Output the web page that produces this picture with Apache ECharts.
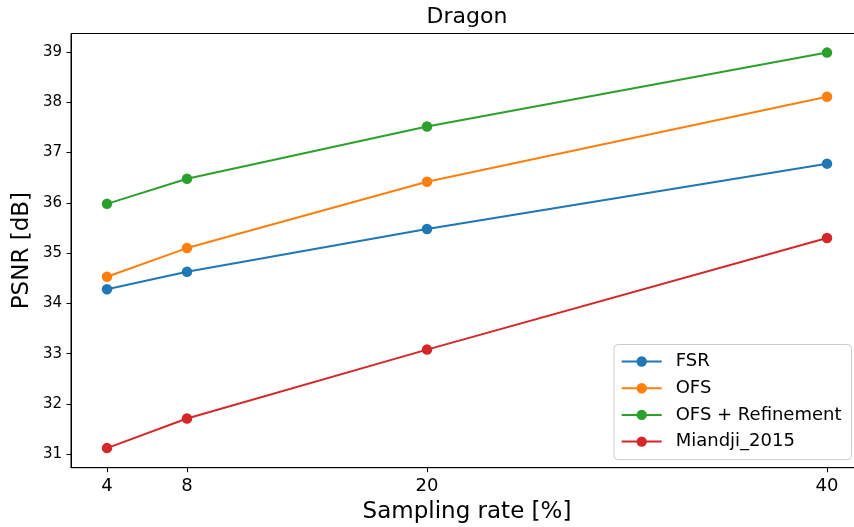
<!DOCTYPE html>
<html><head><meta charset="utf-8">
<script src="https://cdn.jsdelivr.net/npm/echarts@6/dist/echarts.min.js"></script>
<style>html,body{margin:0;padding:0;background:#fff}#c{width:854px;height:527px}</style>
</head><body><div id="c"></div>
<script>
const samplingRates = [4, 8, 20, 40];
const xTickValues = [4, 8, 20, 40];
const yTickValues = [31, 32, 33, 34, 35, 36, 37, 38, 39];
const fsr = [34.28, 34.63, 35.48, 36.78];
const ofs = [34.53, 35.10, 36.42, 38.11];
const ofsRefinement = [35.98, 36.48, 37.52, 38.99];
const miandji2015 = [31.12, 31.71, 33.08, 35.30];
const seriesNames = ['FSR', 'OFS', 'OFS + Refinement', 'Miandji_2015'];
const seriesValues = [fsr, ofs, ofsRefinement, miandji2015];
const colors = ['#1f77b4', '#ff7f0e', '#2ca02c', '#d62728'];

const FONT = '"DejaVu Sans", sans-serif';
const chart = echarts.init(document.getElementById('c'), null, {renderer: 'canvas'});
chart.setOption({
  animation: false,
  backgroundColor: '#fff',
  title: {
    text: 'Dragon', left: 467, top: 6.5, textAlign: 'center', padding: 0,
    textStyle: {fontFamily: FONT, fontSize: 22, fontWeight: 'normal', color: '#000'}
  },
  grid: {
    left: 71, top: 33.5, height: 434.2, width: 792,
    outerBoundsMode: 'none', containLabel: false,
    show: true, borderColor: '#000', borderWidth: 1, backgroundColor: 'transparent'
  },
  legend: {
    orient: 'vertical', left: 614, top: 344.5,
    itemWidth: 40, itemHeight: 13, itemGap: 6.7,
    padding: [7, 10, 8, 6.7],
    backgroundColor: 'rgba(255,255,255,0.8)', borderColor: '#cccccc', borderWidth: 1, borderRadius: 4,
    textStyle: {fontFamily: FONT, fontSize: 18, color: '#000', lineHeight: 20, padding: [0, 0, 0, 9]},
    data: seriesNames
  },
  xAxis: {
    type: 'value', min: 2.2, max: 41.8,
    name: 'Sampling rate [%]', nameLocation: 'middle', nameGap: 32.5, nameMoveOverlap: false,
    nameTextStyle: {fontFamily: FONT, fontSize: 23, color: '#000'},
    axisLine: {show: true, onZero: false, lineStyle: {color: '#000', width: 1}},
    axisTick: {show: true, length: 4.5, customValues: xTickValues, lineStyle: {color: '#000'}},
    axisLabel: {customValues: xTickValues, margin: 10, fontFamily: FONT, fontSize: 18, color: '#000'},
    splitLine: {show: false}
  },
  yAxis: {
    type: 'value', min: 30.73, max: 39.37,
    name: 'PSNR [dB]', nameLocation: 'middle', nameGap: 37.5, nameRotate: 90, nameMoveOverlap: false,
    nameTextStyle: {fontFamily: FONT, fontSize: 23, color: '#000'},
    axisLine: {show: true, onZero: false, lineStyle: {color: '#000', width: 1}},
    axisTick: {show: true, length: 4.5, customValues: yTickValues, lineStyle: {color: '#000'}},
    axisLabel: {customValues: yTickValues, margin: 9, fontFamily: FONT, fontSize: 15, color: '#000'},
    splitLine: {show: false}
  },
  series: seriesNames.map((name, i) => ({
    name: name, type: 'line',
    data: samplingRates.map((x, j) => [x, seriesValues[i][j]]),
    symbol: 'circle', symbolSize: 10.5, showSymbol: true,
    lineStyle: {color: colors[i], width: 2},
    itemStyle: {color: colors[i]},
    emphasis: {disabled: true},
    z: 2 + i
  }))
});
</script></body></html>
